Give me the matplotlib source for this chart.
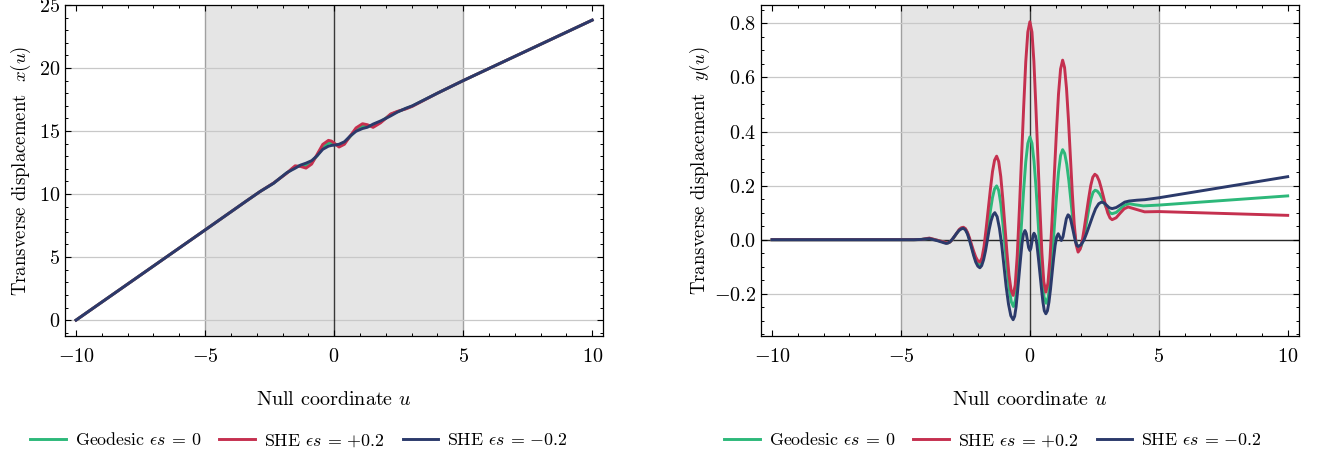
import matplotlib
matplotlib.use('Agg')
import matplotlib.pyplot as plt
from matplotlib.ticker import MultipleLocator

plt.rcParams['font.family'] = 'serif'
plt.rcParams['font.serif'] = ['cmr10']
plt.rcParams['mathtext.fontset'] = 'cm'
plt.rcParams['axes.formatter.use_mathtext'] = True
plt.rcParams['font.size'] = 14.5

GREEN = '#2db87a'
RED = '#c5304f'
BLUE = '#2b3a6b'

labels = ['Geodesic $\\epsilon s$ = 0', 'SHE $\\epsilon s$ = $+0.2$', 'SHE $\\epsilon s$ = $-0.2$']

# left panel: x(u)
ux = [-10, -5, -3.4, -2.87, -2.35, -1.83, -1.65, -1.51, -1.3, -1.09, -0.87, -0.655, -0.44, -0.22, -0.1, 0,
      0.19, 0.4, 0.62, 0.85, 1.1, 1.29, 1.51, 1.8, 2.0, 2.19, 2.45, 2.77, 3.03, 4.0, 5.0, 10]
x_geo = [0, 7.15, 9.45, 10.2, 10.86, 11.68, 11.95, 12.15, 12.25, 12.25, 12.5, 13.05, 13.68, 14.05, 14.05, 13.97,
         13.85, 14.05, 14.55, 15.1, 15.4, 15.4, 15.42, 15.72, 16.02, 16.32, 16.53, 16.77, 16.98, 18.0, 19.0, 23.8]
x_plus = [0, 7.15, 9.45, 10.2, 10.87, 11.66, 12.0, 12.24, 12.19, 12.06, 12.38, 13.16, 13.94, 14.26, 14.2, 14.05,
          13.73, 13.95, 14.6, 15.25, 15.58, 15.5, 15.29, 15.65, 16.0, 16.35, 16.56, 16.75, 16.96, 18.0, 19.0, 23.8]
x_minus = [0, 7.15, 9.45, 10.2, 10.85, 11.7, 11.9, 12.05, 12.3, 12.45, 12.65, 13.05, 13.55, 13.8, 13.86, 13.88,
           13.95, 14.15, 14.6, 14.98, 15.2, 15.3, 15.55, 15.8, 16.0, 16.2, 16.5, 16.8, 17.0, 18.0, 19.0, 23.8]

# right panel: y(u)
u_geo = [-10, -4.5, -4.2, -3.9, -3.55, -3.2,
         -3.12, -3.05, -2.97, -2.89, -2.81, -2.74, -2.66, -2.58,
         -2.50, -2.42, -2.34, -2.26, -2.18, -2.10, -2.02, -1.94,
         -1.86, -1.78, -1.70, -1.615, -1.53, -1.45, -1.37, -1.29,
         -1.21, -1.13, -1.05, -0.965, -0.88, -0.80, -0.72, -0.64,
         -0.56, -0.48, -0.40, -0.32, -0.24, -0.16, -0.08, 0.0,
         0.08, 0.16, 0.24, 0.315, 0.39, 0.47, 0.55, 0.63,
         0.71, 0.79, 0.87, 0.95, 1.03, 1.11, 1.19, 1.27,
         1.35, 1.43, 1.51, 1.585, 1.66, 1.74, 1.82, 1.9,
         1.98, 2.06, 2.14, 2.215, 2.29, 2.37, 2.45, 2.53,
         2.61, 2.70, 2.78, 2.86, 2.94, 3.03, 3.11, 3.19,
         3.35, 3.52, 3.68, 3.85, 4.1, 4.4, 5.0, 7.5, 10]
y_geo = [0, 0, 0.001, 0.005, -0.003, -0.012,
         -0.010, -0.004, 0.005, 0.016, 0.027, 0.036, 0.042, 0.044,
         0.039, 0.024, 0.001, -0.026, -0.052, -0.075, -0.090, -0.095,
         -0.084, -0.052, -0.004, 0.052, 0.108, 0.156, 0.188, 0.199,
         0.182, 0.134, 0.061, -0.024, -0.109, -0.182, -0.230, -0.247,
         -0.223, -0.155, -0.053, 0.067, 0.186, 0.288, 0.356, 0.380,
         0.357, 0.290, 0.190, 0.073, -0.045, -0.145, -0.212, -0.235,
         -0.213, -0.152, -0.059, 0.049, 0.157, 0.250, 0.311, 0.333,
         0.319, 0.279, 0.219, 0.149, 0.079, 0.019, -0.021, -0.035,
         -0.027, -0.003, 0.032, 0.074, 0.116, 0.151, 0.175, 0.183,
         0.180, 0.170, 0.156, 0.140, 0.123, 0.109, 0.099, 0.096,
         0.101, 0.115, 0.128, 0.133, 0.129, 0.125, 0.128, 0.145, 0.162]

u_plus = [-10, -4.5, -4.2, -3.9, -3.55, -3.2,
          -3.12, -3.05, -2.97, -2.89, -2.81, -2.74, -2.66, -2.58,
          -2.50, -2.42, -2.34, -2.26, -2.18, -2.10, -2.02, -1.94,
          -1.86, -1.78, -1.70, -1.615, -1.53, -1.45, -1.37, -1.29,
          -1.21, -1.13, -1.05, -0.97, -0.89, -0.81, -0.73, -0.65,
          -0.57, -0.49, -0.41, -0.325, -0.24, -0.16, -0.08, 0.0,
          0.08, 0.155, 0.23, 0.31, 0.39, 0.465, 0.54, 0.62,
          0.70, 0.78, 0.86, 0.945, 1.03, 1.11, 1.19, 1.27,
          1.345, 1.42, 1.495, 1.57, 1.645, 1.72, 1.795, 1.87,
          1.95, 2.03, 2.11, 2.195, 2.28, 2.36, 2.44, 2.52,
          2.60, 2.69, 2.77, 2.855, 2.94, 3.02, 3.11, 3.19,
          3.345, 3.5, 3.655, 3.81, 4.13, 4.45, 5.0, 7.5, 10]
y_plus = [0, 0, 0.001, 0.006, -0.003, -0.012,
          -0.010, -0.004, 0.006, 0.017, 0.028, 0.038, 0.044, 0.046,
          0.041, 0.027, 0.006, -0.019, -0.043, -0.064, -0.078, -0.083,
          -0.068, -0.026, 0.038, 0.113, 0.188, 0.252, 0.294, 0.309,
          0.289, 0.234, 0.150, 0.052, -0.047, -0.131, -0.186, -0.206,
          -0.168, -0.058, 0.107, 0.300, 0.493, 0.658, 0.768, 0.806,
          0.768, 0.660, 0.497, 0.306, 0.115, -0.048, -0.156, -0.194,
          -0.161, -0.069, 0.071, 0.235, 0.399, 0.539, 0.631, 0.664,
          0.637, 0.560, 0.445, 0.309, 0.173, 0.058, -0.019, -0.046,
          -0.035, -0.004, 0.043, 0.098, 0.153, 0.200, 0.231, 0.242,
          0.236, 0.217, 0.190, 0.158, 0.126, 0.099, 0.080, 0.074,
          0.081, 0.098, 0.114, 0.121, 0.112, 0.103, 0.104, 0.097, 0.090]

u_minus = [-10, -4.5, -4.2, -3.9, -3.58, -3.25,
           -3.17, -3.08, -3.00, -2.915, -2.83, -2.75, -2.66, -2.58,
           -2.50, -2.42, -2.34, -2.26, -2.18, -2.10, -2.02, -1.94,
           -1.87, -1.795, -1.72, -1.65, -1.58, -1.505, -1.43, -1.36,
           -1.27, -1.18, -1.09, -1.005, -0.92, -0.83, -0.74, -0.65,
           -0.59, -0.535, -0.48, -0.42, -0.36, -0.305, -0.25, -0.19,
           -0.14, -0.095, -0.05, 0.0, 0.04, 0.08, 0.12, 0.16,
           0.22, 0.275, 0.33, 0.39, 0.45, 0.505, 0.56, 0.62,
           0.68, 0.74, 0.80, 0.86, 0.92, 0.98, 1.04, 1.1, 1.16, 1.22,
           1.285, 1.35, 1.415, 1.48,
           1.53, 1.58, 1.625, 1.675, 1.725, 1.77, 1.82, 1.87,
           1.98, 2.10, 2.21, 2.325, 2.44, 2.55, 2.67, 2.78,
           2.88, 2.98, 3.08, 3.19, 3.35, 3.52, 3.68, 3.85, 4.15, 4.46, 5.0, 7.5, 10]
y_minus = [0, 0, 0.001, 0.004, -0.004, -0.014,
           -0.012, -0.006, 0.003, 0.014, 0.025, 0.034, 0.040, 0.042,
           0.036, 0.021, -0.003, -0.031, -0.059, -0.083, -0.098, -0.104,
           -0.096, -0.074, -0.041, -0.002, 0.037, 0.070, 0.092, 0.100,
           0.085, 0.042, -0.022, -0.098, -0.174, -0.238, -0.281, -0.296,
           -0.283, -0.248, -0.194, -0.131, -0.068, -0.014, 0.021, 0.034,
           0.023, -0.003, -0.029, -0.040, -0.031, -0.008, 0.015, 0.024,
           0.013, -0.020, -0.068, -0.125, -0.182, -0.230, -0.263, -0.274,
           -0.263, -0.231, -0.183, -0.126, -0.069, -0.021, 0.011, 0.022, 0.010, -0.003,
           0.011, 0.045, 0.078, 0.092,
           0.088, 0.075, 0.056, 0.034, 0.011, -0.008, -0.021, -0.025,
           -0.019, -0.001, 0.026, 0.057, 0.088, 0.115, 0.133, 0.139,
           0.136, 0.127, 0.118, 0.115, 0.119, 0.129, 0.139, 0.143, 0.146, 0.148, 0.155, 0.194, 0.233]

fig = plt.figure(figsize=(13.23, 4.58), dpi=100)
ax1 = fig.add_axes([0.0491, 0.2653, 0.4067, 0.7238])
ax2 = fig.add_axes([0.5752, 0.2653, 0.4063, 0.7238])

def style(ax):
    ax.axvspan(-5, 5, facecolor='#e5e5e5', edgecolor='none', zorder=0)
    for xv in (-5, 5):
        ax.axvline(xv, color='#a0a0a0', lw=1.0, zorder=0.5)
    ax.axvline(0, color='black', lw=1.0, alpha=0.75, zorder=1)
    ax.grid(True, axis='y', color='#c8c8c8', lw=0.9)
    ax.set_axisbelow(True)
    ax.xaxis.set_major_locator(MultipleLocator(5))
    ax.xaxis.set_minor_locator(MultipleLocator(1))
    ax.tick_params(which='both', direction='in', top=True, right=True)
    ax.tick_params(which='major', length=4, width=0.8)
    ax.tick_params(which='minor', length=2, width=0.7)
    ax.tick_params(axis='x', which='major', pad=8)
    ax.set_xlim(-10.43, 10.42)
    ax.set_xlabel('Null coordinate $u$', labelpad=18)
    for s in ax.spines.values():
        s.set_linewidth(0.9)

lw = 2.1
ax1.plot(ux, x_geo, color=GREEN, lw=lw, label=labels[0], zorder=3)
ax1.plot(ux, x_plus, color=RED, lw=lw, label=labels[1], zorder=3)
ax1.plot(ux, x_minus, color=BLUE, lw=lw, label=labels[2], zorder=3)
style(ax1)
ax1.set_ylim(-1.3, 25.0)
ax1.yaxis.set_major_locator(MultipleLocator(5))
ax1.yaxis.set_minor_locator(MultipleLocator(1))
ax1.set_ylabel('Transverse displacement  $x(u)$', fontsize=13.5)

ax2.plot(u_geo, y_geo, color=GREEN, lw=lw, label=labels[0], zorder=3)
ax2.plot(u_plus, y_plus, color=RED, lw=lw, label=labels[1], zorder=3)
ax2.plot(u_minus, y_minus, color=BLUE, lw=lw, label=labels[2], zorder=3)
style(ax2)
ax2.axhline(0, color='black', lw=1.0, alpha=0.8, zorder=1)
ax2.set_ylim(-0.358, 0.868)
ax2.yaxis.set_major_locator(MultipleLocator(0.2))
ax2.yaxis.set_minor_locator(MultipleLocator(0.05))
ax2.set_ylabel('Transverse displacement  $y(u)$', fontsize=13.5, labelpad=1)

for ax, cx in ((ax1, 0.226), (ax2, 0.7506)):
    ax.legend(loc='center', bbox_to_anchor=(cx, 0.039), bbox_transform=fig.transFigure,
              ncol=3, frameon=False, fontsize=12.9, handlelength=2.0, handletextpad=0.5,
              columnspacing=1.0)

fig.savefig('out.png', dpi=100)
